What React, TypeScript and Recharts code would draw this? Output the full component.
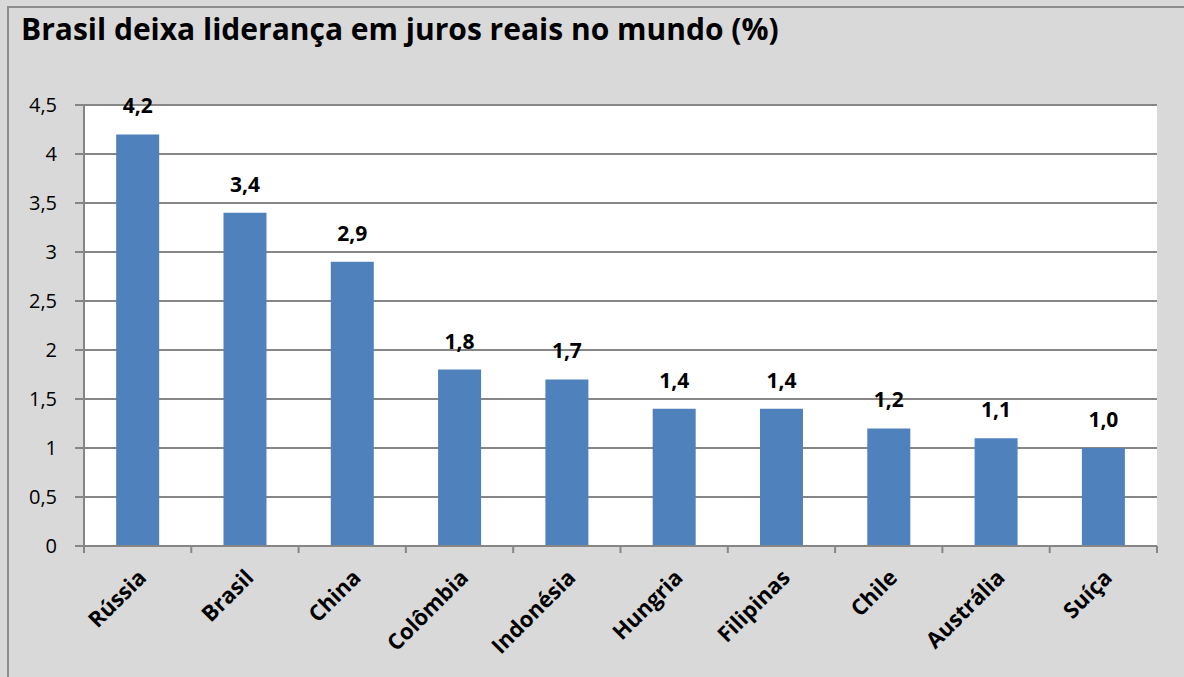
import { Bar, BarChart, CartesianGrid, LabelList, XAxis, YAxis } from "recharts";

const countries = [
  "Rússia",
  "Brasil",
  "China",
  "Colômbia",
  "Indonésia",
  "Hungria",
  "Filipinas",
  "Chile",
  "Austrália",
  "Suíça",
];
const realRates = [4.2, 3.4, 2.9, 1.8, 1.7, 1.4, 1.4, 1.2, 1.1, 1.0];
const yTicks = [0, 0.5, 1, 1.5, 2, 2.5, 3, 3.5, 4, 4.5];

const W = 1184;
const H = 677;
const margin = { top: 105, right: 27, bottom: 0, left: 0 };
const xAxisHeight = 131;
const yAxisWidth = 84;
const axisY = H - margin.bottom - xAxisHeight;
const band = (W - margin.right - yAxisWidth) / countries.length;
const FONT = "'Open Sans', Lato, sans-serif";
const GRID = "#868686";

const rows = countries.map((name, i) => ({ name, value: realRates[i] }));

const fmtTick = (v: number) => String(v).replace(".", ",");
const fmtValue = (v: number) => v.toFixed(1).replace(".", ",");

function CategoryTick(props: any) {
  const { x, payload, index } = props;
  const left = x - band / 2;
  const ax = x + 10;
  const ay = axisY + 33;
  return (
    <g>
      <line x1={left} x2={left} y1={axisY} y2={axisY + 7} stroke={GRID} strokeWidth={2} />
      {index === countries.length - 1 && (
        <line x1={x + band / 2} x2={x + band / 2} y1={axisY} y2={axisY + 7} stroke={GRID} strokeWidth={2} />
      )}
      <text
        x={ax}
        y={ay}
        transform={`rotate(-45 ${ax} ${ay})`}
        textAnchor="end"
        fontFamily={FONT}
        fontWeight={700}
        fontSize={22}
        fill="#000"
      >
        {payload.value}
      </text>
    </g>
  );
}

function ValueLabel(props: any) {
  const { x, y, width, value } = props;
  return (
    <text
      x={Number(x) + Number(width) / 2}
      y={Number(y) - 21}
      textAnchor="middle"
      fontFamily={FONT}
      fontWeight={700}
      fontSize={21}
      fill="#000"
    >
      {fmtValue(Number(value))}
    </text>
  );
}

export default function App() {
  return (
    <div
      style={{
        position: "absolute",
        left: 0,
        top: 0,
        width: W,
        height: H,
        background: "#d9d9d9",
        overflow: "hidden",
        fontFamily: FONT,
      }}
    >
      <div
        style={{
          position: "absolute",
          left: 7,
          top: 6,
          width: W,
          height: H,
          borderLeft: "2px solid #8c8c8c",
          borderTop: "2px solid #8c8c8c",
        }}
      />
      <div
        style={{
          position: "absolute",
          left: 21,
          top: 11,
          fontSize: 30,
          fontWeight: 700,
          color: "#000",
          whiteSpace: "nowrap",
          lineHeight: "36px",
        }}
      >
        Brasil deixa liderança em juros reais no mundo (%)
      </div>
      <div style={{ position: "absolute", left: 0, top: 0 }}>
        <BarChart width={W} height={H} data={rows} margin={margin} barCategoryGap="30%">
          <CartesianGrid vertical={false} stroke={GRID} strokeWidth={2} fill="#ffffff" />
          <XAxis
            dataKey="name"
            interval={0}
            tickLine={false}
            axisLine={{ stroke: GRID, strokeWidth: 2 }}
            tick={<CategoryTick />}
            height={xAxisHeight}
          />
          <YAxis
            domain={[0, 4.5]}
            ticks={yTicks}
            width={yAxisWidth}
            tickSize={9}
            tickMargin={18}
            tickFormatter={fmtTick}
            axisLine={{ stroke: GRID, strokeWidth: 2 }}
            tickLine={{ stroke: GRID, strokeWidth: 2 }}
            tick={{ fill: "#000", fontSize: 20, fontFamily: FONT }}
          />
          <Bar dataKey="value" fill="#4f81bd" isAnimationActive={false}>
            <LabelList dataKey="value" content={<ValueLabel />} />
          </Bar>
        </BarChart>
      </div>
    </div>
  );
}
